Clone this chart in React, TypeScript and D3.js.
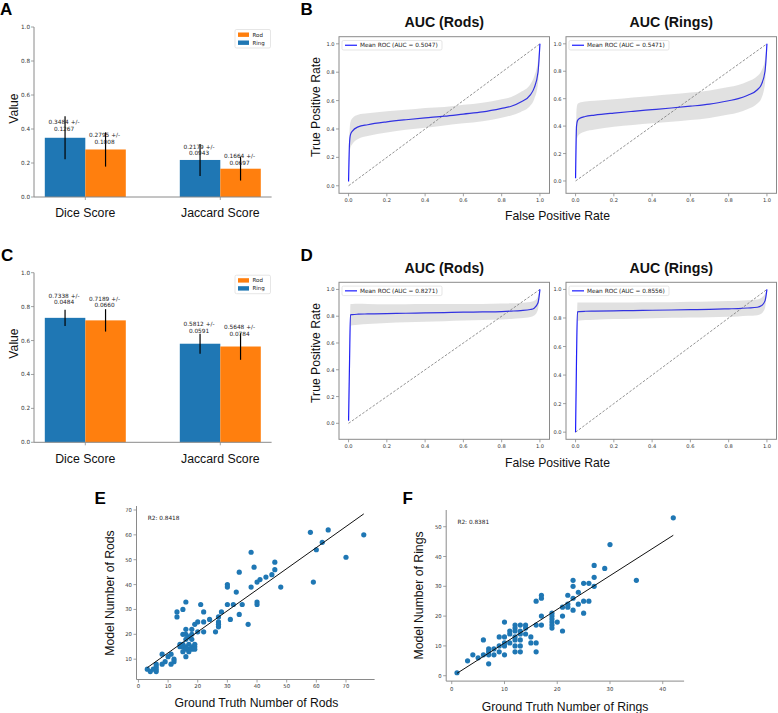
import React from 'react';
import * as d3 from 'd3';

const SANS = "'Liberation Sans', Arial, Helvetica, sans-serif";
const SMALL = "'DejaVu Sans', sans-serif";
const RING_COLOR = '#1f77b4';
const ROD_COLOR = '#ff7f0e';
const SPINE = '#8a8a8a';
const TICK_TEXT = '#333';

// ---- Segmentation scores (mean +/- std) ----
const SCORE_CATEGORIES = ['Dice Score', 'Jaccard Score'];
const BAR_TICKS = [0, 0.2, 0.4, 0.6, 0.8, 1.0];
const BAR_WIDTH = 0.3;

const SEG_A_RING_MEAN = [0.3484, 0.2179];
const SEG_A_RING_STD = [0.1267, 0.0943];
const SEG_A_ROD_MEAN = [0.2795, 0.1664];
const SEG_A_ROD_STD = [0.1008, 0.0697];

const SEG_C_RING_MEAN = [0.7338, 0.5812];
const SEG_C_RING_STD = [0.0484, 0.0591];
const SEG_C_ROD_MEAN = [0.7189, 0.5648];
const SEG_C_ROD_STD = [0.066, 0.0784];

// ---- Mean ROC curves ----
const ROC_TICKS = [0, 0.2, 0.4, 0.6, 0.8, 1.0];
const ROC_FPR = [0, 0.005, 0.01, 0.02, 0.05, 0.1, 0.2, 0.3, 0.4, 0.5, 0.6, 0.7, 0.8, 0.85, 0.9, 0.95, 0.97, 0.99, 1.0];

const ROC_B_RODS_AUC = '0.5047';
const ROC_B_RODS_TPR = [0.03, 0.3, 0.36, 0.385, 0.415, 0.43, 0.45, 0.465, 0.478, 0.49, 0.505, 0.52, 0.545, 0.56, 0.59, 0.64, 0.69, 0.8, 1.0];
const ROC_B_RODS_STD = [0.033, 0.08, 0.09, 0.09, 0.085, 0.08, 0.075, 0.07, 0.07, 0.065, 0.065, 0.065, 0.065, 0.065, 0.07, 0.075, 0.08, 0.08, 0.0];

const ROC_B_RINGS_AUC = '0.5471';
const ROC_B_RINGS_TPR = [0.02, 0.4, 0.44, 0.455, 0.47, 0.48, 0.495, 0.508, 0.52, 0.532, 0.545, 0.56, 0.585, 0.6, 0.625, 0.665, 0.7, 0.8, 1.0];
const ROC_B_RINGS_STD = [0.058, 0.12, 0.12, 0.115, 0.11, 0.105, 0.1, 0.1, 0.1, 0.1, 0.1, 0.1, 0.1, 0.1, 0.1, 0.1, 0.1, 0.09, 0.0];

const ROC_D_RODS_AUC = '0.8271';
const ROC_D_RODS_TPR = [0.02, 0.45, 0.81, 0.812, 0.815, 0.817, 0.82, 0.822, 0.825, 0.827, 0.83, 0.832, 0.835, 0.838, 0.842, 0.85, 0.86, 0.9, 1.0];
const ROC_D_RODS_STD = [0.086, 0.09, 0.082, 0.08, 0.078, 0.075, 0.07, 0.068, 0.066, 0.064, 0.062, 0.06, 0.06, 0.058, 0.057, 0.056, 0.055, 0.05, 0.0];

const ROC_D_RINGS_AUC = '0.8556';
const ROC_D_RINGS_TPR = [0.0, 0.52, 0.843, 0.845, 0.847, 0.848, 0.85, 0.852, 0.854, 0.856, 0.858, 0.86, 0.864, 0.866, 0.87, 0.875, 0.885, 0.92, 1.0];
const ROC_D_RINGS_STD = [0.0, 0.06, 0.065, 0.063, 0.062, 0.06, 0.058, 0.057, 0.056, 0.055, 0.055, 0.055, 0.055, 0.055, 0.055, 0.055, 0.055, 0.05, 0.0];

// ---- Counts: ground truth vs model ----
const ROD_TRUTH = [64, 58, 62, 60, 70, 59, 76, 46, 46, 45, 43, 41, 40, 48, 38, 39, 34, 38, 30, 30, 33, 40, 40, 35, 32, 30, 34, 31, 37, 28, 27, 27, 27, 27, 26, 24, 22, 22, 21, 22, 20, 19, 18, 16, 15, 13, 13, 20, 18, 16, 16, 15, 17, 16, 18, 15, 14, 15, 16, 17, 18, 19, 19, 19, 18, 17, 16, 15, 17, 16, 14, 11, 8, 10, 12, 12, 9, 11, 8, 6, 6, 6, 5, 6, 3, 4];
const ROD_MODEL = [62, 61, 57, 54, 51, 41, 60, 49, 46, 44, 43, 42, 41, 39, 53, 47, 45, 39, 40, 39, 37, 33, 32, 32, 32, 32, 28, 26, 24, 29, 27, 25, 24, 23, 21, 26, 25, 29, 32, 21, 25, 24, 22, 33, 30, 29, 27, 21, 20, 22, 20, 20, 19, 18, 18, 16, 15, 15, 15, 16, 15, 16, 15, 14, 14, 14, 14, 13, 13, 11, 16, 12, 12, 11, 10, 9, 9, 8, 8, 7, 8, 6, 6, 5, 6, 5];
const ROD_FIT_SLOPE = 0.847;
const ROD_FIT_INTERCEPT = 4.06;
const ROD_R2 = '0.8418';
const ROD_X_TICKS = [0, 10, 20, 30, 40, 50, 60, 70];
const ROD_Y_TICKS = [10, 20, 30, 40, 50, 60, 70];

const RING_TRUTH = [42, 30, 35, 27, 29, 27, 27, 26, 25, 23, 23, 24, 23, 22, 26, 25, 24, 22, 22, 21, 23, 25, 21, 20, 19, 19, 19, 19, 19, 19, 21, 17, 17, 16, 17, 17, 16, 14, 14, 13, 12, 12, 12, 11, 11, 13, 13, 14, 15, 15, 16, 16, 13, 13, 13, 12, 12, 12, 11, 10, 10, 10, 10, 10, 9, 9, 9, 8, 8, 7, 7, 7, 7, 6, 6, 5, 4, 3, 1, 12];
const RING_MODEL = [53, 44, 32, 37, 36, 33, 30, 31, 31, 32, 30, 28, 26, 27, 25, 25, 24, 24, 23, 23, 22, 21, 20, 18, 21, 20, 19, 18, 17, 16, 15, 27, 26, 25, 20, 17, 17, 17, 16, 17, 17, 16, 15, 15, 14, 15, 14, 14, 13, 11, 11, 8, 12, 10, 8, 12, 10, 8, 11, 18, 13, 11, 10, 7, 13, 10, 8, 9, 7, 9, 8, 7, 4, 12, 7, 6, 7, 5, 1, 13];
const RING_FIT_SLOPE = 1.13;
const RING_FIT_INTERCEPT = -0.33;
const RING_R2 = '0.8381';
const RING_X_TICKS = [0, 10, 20, 30, 40];
const RING_Y_TICKS = [0, 10, 20, 30, 40, 50];

const fmt1 = d3.format('.1f');

function BarPanel({ top, bottom, ringMean, ringStd, rodMean, rodStd }) {
  const left = 34;
  const right = 271.6;
  const x = d3.scaleLinear().domain([-0.38, 1.38]).range([left, right]);
  const y = d3.scaleLinear().domain([0, 1]).range([bottom, top]);
  const bw = x(BAR_WIDTH) - x(0);
  const series = [
    { name: 'Ring', color: RING_COLOR, mean: ringMean, std: ringStd, offset: -BAR_WIDTH / 2 },
    { name: 'Rod', color: ROD_COLOR, mean: rodMean, std: rodStd, offset: BAR_WIDTH / 2 },
  ];
  const legendItems = [series[1], series[0]];
  const legTop = top + 2.5;
  return (
    <g>
      {series.map((s) =>
        s.mean.map((m, i) => {
          const cx = x(i + s.offset);
          return (
            <rect key={s.name + i} x={cx - bw / 2} y={y(m)} width={bw} height={y(0) - y(m)} fill={s.color} />
          );
        })
      )}
      {series.map((s) =>
        s.mean.map((m, i) => {
          const cx = x(i + s.offset);
          const ly = y(m * 1.1) - 3;
          return (
            <g key={'e' + s.name + i}>
              <line x1={cx} x2={cx} y1={y(m - s.std[i])} y2={y(m + s.std[i])} stroke="#000" strokeWidth={1.2} />
              <text x={cx - 1} y={ly - 6.5} fontSize={5.8} fontFamily={SMALL} fill="#222" textAnchor="middle" dominantBaseline="central">
                {m.toFixed(4)} +/-
              </text>
              <text x={cx - 1} y={ly} fontSize={5.8} fontFamily={SMALL} fill="#222" textAnchor="middle" dominantBaseline="central">
                {s.std[i].toFixed(4)}
              </text>
            </g>
          );
        })
      )}
      <line x1={left} x2={left} y1={y(0)} y2={y(1)} stroke={SPINE} strokeWidth={1} />
      <line x1={left} x2={right} y1={y(0)} y2={y(0)} stroke={SPINE} strokeWidth={1} />
      {BAR_TICKS.map((t) => (
        <g key={t}>
          <line x1={left - 3} x2={left} y1={y(t)} y2={y(t)} stroke={SPINE} strokeWidth={0.8} />
          <text x={left - 4} y={y(t)} fontSize={5.7} fontFamily={SMALL} fill={TICK_TEXT} textAnchor="end" dominantBaseline="central">
            {fmt1(t)}
          </text>
        </g>
      ))}
      {SCORE_CATEGORIES.map((c, i) => (
        <g key={c}>
          <line x1={x(i)} x2={x(i)} y1={y(0)} y2={y(0) + 3} stroke={SPINE} strokeWidth={0.8} />
          <text x={x(i)} y={y(0) + 20.4} fontSize={12.3} fontFamily={SANS} fill="#111" textAnchor="middle">
            {c}
          </text>
        </g>
      ))}
      <rect x={235} y={legTop} width={35.5} height={18.5} fill="#fff" stroke="#d5d5d5" strokeWidth={0.6} rx={1.5} />
      {legendItems.map((s, k) => (
        <g key={s.name}>
          <rect x={238} y={legTop + 5.2 + k * 8 - 2.2} width={11} height={4.4} fill={s.color} />
          <text x={252.5} y={legTop + 5.2 + k * 8} fontSize={5.5} fontFamily={SMALL} fill="#222" dominantBaseline="central">
            {s.name}
          </text>
        </g>
      ))}
    </g>
  );
}

function RocPanel({ x0, x1, y0, y1, title, auc, tpr, std }) {
  const pts = ROC_FPR.map((f, i) => ({ f, m: tpr[i], lo: tpr[i] - std[i], hi: Math.min(tpr[i] + std[i], 1) }));
  const lo = Math.min(0, d3.min(pts, (d) => d.lo));
  const hi = Math.max(1, d3.max(pts, (d) => d.hi));
  const pad = 0.05 * (hi - lo);
  const x = d3.scaleLinear().domain([-0.05, 1.05]).range([x0, x1]);
  const y = d3.scaleLinear().domain([lo - pad, hi + pad]).range([y1, y0]);
  const area = d3.area().x((d) => x(d.f)).y0((d) => y(d.lo)).y1((d) => y(d.hi)).curve(d3.curveMonotoneX);
  const line = d3.line().x((d) => x(d.f)).y((d) => y(d.m)).curve(d3.curveMonotoneX);
  const clipId = 'clip' + Math.round(x0) + '_' + Math.round(y0);
  const legY = y0 + 3.8;
  return (
    <g>
      <defs>
        <clipPath id={clipId}>
          <rect x={x0} y={y0} width={x1 - x0} height={y1 - y0} />
        </clipPath>
      </defs>
      <g clipPath={`url(#${clipId})`}>
        <line x1={x(0)} y1={y(0)} x2={x(1)} y2={y(1)} stroke="#777" strokeWidth={0.8} strokeDasharray="2.6,1.6" />
        <path d={line(pts)} fill="none" stroke="#1a1aff" strokeWidth={1.2} />
        <path d={area(pts)} fill="#808080" fillOpacity={0.24} stroke="none" />
      </g>
      <rect x={x0} y={y0} width={x1 - x0} height={y1 - y0} fill="none" stroke={SPINE} strokeWidth={1} />
      {ROC_TICKS.map((t) => (
        <g key={'y' + t}>
          <line x1={x0 - 3} x2={x0} y1={y(t)} y2={y(t)} stroke={SPINE} strokeWidth={0.8} />
          <text x={x0 - 4.5} y={y(t)} fontSize={5.1} fontFamily={SMALL} fill={TICK_TEXT} textAnchor="end" dominantBaseline="central">
            {fmt1(t)}
          </text>
        </g>
      ))}
      {ROC_TICKS.map((t) => (
        <g key={'x' + t}>
          <line x1={x(t)} x2={x(t)} y1={y1} y2={y1 + 3} stroke={SPINE} strokeWidth={0.8} />
          <text x={x(t)} y={y1 + 7} fontSize={5.1} fontFamily={SMALL} fill={TICK_TEXT} textAnchor="middle" dominantBaseline="central">
            {fmt1(t)}
          </text>
        </g>
      ))}
      <rect x={x0 + 3} y={legY} width={100} height={9.5} fill="#fff" stroke="#d5d5d5" strokeWidth={0.6} rx={1.5} />
      <line x1={x0 + 6} x2={x0 + 18} y1={legY + 4.75} y2={legY + 4.75} stroke="#1a1aff" strokeWidth={1.2} />
      <text x={x0 + 21} y={legY + 4.9} fontSize={5.8} fontFamily={SMALL} fill="#222" dominantBaseline="central">
        {`Mean ROC (AUC = ${auc})`}
      </text>
      <text x={(x0 + x1) / 2} y={y0 - 9.7} fontSize={14.2} fontWeight="bold" fontFamily={SANS} fill="#111" textAnchor="middle">
        {title}
      </text>
    </g>
  );
}

function ScatterPanel({ x0, x1, y0, y1, truth, model, slope, intercept, r2, xTicks, yTicks, tickDy }) {
  const xMin = d3.min(truth);
  const xMax = d3.max(truth);
  const fitLo = slope * xMin + intercept;
  const fitHi = slope * xMax + intercept;
  const yMin = Math.min(d3.min(model), fitLo, fitHi);
  const yMax = Math.max(d3.max(model), fitLo, fitHi);
  const px = 0.05 * (xMax - xMin);
  const py = 0.05 * (yMax - yMin);
  const x = d3.scaleLinear().domain([xMin - px, xMax + px]).range([x0, x1]);
  const y = d3.scaleLinear().domain([yMin - py, yMax + py]).range([y1, y0]);
  return (
    <g>
      {truth.map((t, i) => (
        <circle key={i} cx={x(t)} cy={y(model[i])} r={2.6} fill={RING_COLOR} />
      ))}
      <line x1={x(xMin)} y1={y(fitLo)} x2={x(xMax)} y2={y(fitHi)} stroke="#111" strokeWidth={1} />
      <line x1={x0} x2={x0} y1={y0} y2={y1} stroke={SPINE} strokeWidth={1} />
      <line x1={x0} x2={x1} y1={y1} y2={y1} stroke={SPINE} strokeWidth={1} />
      {xTicks.map((t) => (
        <g key={'x' + t}>
          <line x1={x(t)} x2={x(t)} y1={y1} y2={y1 + 3} stroke={SPINE} strokeWidth={0.8} />
          <text x={x(t)} y={y1 + tickDy} fontSize={5.3} fontFamily={SMALL} fill={TICK_TEXT} textAnchor="middle" dominantBaseline="central">
            {t}
          </text>
        </g>
      ))}
      {yTicks.map((t) => (
        <g key={'y' + t}>
          <line x1={x0 - 3} x2={x0} y1={y(t)} y2={y(t)} stroke={SPINE} strokeWidth={0.8} />
          <text x={x0 - 4.5} y={y(t)} fontSize={5.3} fontFamily={SMALL} fill={TICK_TEXT} textAnchor="end" dominantBaseline="central">
            {t}
          </text>
        </g>
      ))}
      <text x={x0 + 11.2} y={y0 + 11.5} fontSize={5.8} fontFamily={SMALL} fill="#222" dominantBaseline="central">
        {`R2: ${r2}`}
      </text>
    </g>
  );
}

function PanelLetter({ x, y, children }) {
  return (
    <text x={x} y={y} fontSize={17} fontWeight="bold" fontFamily={SANS} fill="#000">
      {children}
    </text>
  );
}

function YLabel({ x, y, children }) {
  return (
    <text transform={`translate(${x},${y}) rotate(-90)`} fontSize={12.2} fontFamily={SANS} fill="#111" textAnchor="middle">
      {children}
    </text>
  );
}

function XLabel({ x, y, children }) {
  return (
    <text x={x} y={y} fontSize={12.2} fontFamily={SANS} fill="#111" textAnchor="middle">
      {children}
    </text>
  );
}

export default function App() {
  return (
    <svg width={778} height={713} viewBox="0 0 778 713" style={{ position: 'absolute', left: 0, top: 0, background: '#fff' }}>
      <rect x={0} y={0} width={778} height={713} fill="#fff" />

      {/* A: segmentation scores, first model */}
      <PanelLetter x={0} y={15}>A</PanelLetter>
      <BarPanel top={27} bottom={197} ringMean={SEG_A_RING_MEAN} ringStd={SEG_A_RING_STD} rodMean={SEG_A_ROD_MEAN} rodStd={SEG_A_ROD_STD} />
      <YLabel x={18.3} y={108.5}>Value</YLabel>

      {/* B: ROC curves, first model */}
      <PanelLetter x={300.5} y={15}>B</PanelLetter>
      <RocPanel x0={339} x1={549.5} y0={36.7} y1={193.3} title="AUC (Rods)" auc={ROC_B_RODS_AUC} tpr={ROC_B_RODS_TPR} std={ROC_B_RODS_STD} />
      <RocPanel x0={566} x1={776.5} y0={36.7} y1={193.3} title="AUC (Rings)" auc={ROC_B_RINGS_AUC} tpr={ROC_B_RINGS_TPR} std={ROC_B_RINGS_STD} />
      <YLabel x={320} y={107}>True Positive Rate</YLabel>
      <XLabel x={557.5} y={219.5}>False Positive Rate</XLabel>

      {/* C: segmentation scores, second model */}
      <PanelLetter x={1} y={260.5}>C</PanelLetter>
      <BarPanel top={272.7} bottom={442.3} ringMean={SEG_C_RING_MEAN} ringStd={SEG_C_RING_STD} rodMean={SEG_C_ROD_MEAN} rodStd={SEG_C_ROD_STD} />
      <YLabel x={18.3} y={343.5}>Value</YLabel>

      {/* D: ROC curves, second model */}
      <PanelLetter x={300.5} y={260.7}>D</PanelLetter>
      <RocPanel x0={339} x1={549.5} y0={282.3} y1={439.3} title="AUC (Rods)" auc={ROC_D_RODS_AUC} tpr={ROC_D_RODS_TPR} std={ROC_D_RODS_STD} />
      <RocPanel x0={566} x1={776.5} y0={282.3} y1={439.3} title="AUC (Rings)" auc={ROC_D_RINGS_AUC} tpr={ROC_D_RINGS_TPR} std={ROC_D_RINGS_STD} />
      <YLabel x={320} y={353}>True Positive Rate</YLabel>
      <XLabel x={557.5} y={466.5}>False Positive Rate</XLabel>

      {/* E: rod counts */}
      <PanelLetter x={94.5} y={503.5}>E</PanelLetter>
      <ScatterPanel x0={136.5} x1={374.6} y0={506} y1={679.5} truth={ROD_TRUTH} model={ROD_MODEL} slope={ROD_FIT_SLOPE} intercept={ROD_FIT_INTERCEPT} r2={ROD_R2} xTicks={ROD_X_TICKS} yTicks={ROD_Y_TICKS} tickDy={6.5} />
      <YLabel x={114} y={593}>Model Number of Rods</YLabel>
      <XLabel x={256.5} y={707}>Ground Truth Number of Rods</XLabel>

      {/* F: ring counts */}
      <PanelLetter x={402.5} y={503.5}>F</PanelLetter>
      <ScatterPanel x0={446.2} x1={684.1} y0={510} y1={681.1} truth={RING_TRUTH} model={RING_MODEL} slope={RING_FIT_SLOPE} intercept={RING_FIT_INTERCEPT} r2={RING_R2} xTicks={RING_X_TICKS} yTicks={RING_Y_TICKS} tickDy={7.5} />
      <YLabel x={423} y={595.5}>Model Number of Rings</YLabel>
      <XLabel x={565} y={710.5}>Ground Truth Number of Rings</XLabel>
    </svg>
  );
}
